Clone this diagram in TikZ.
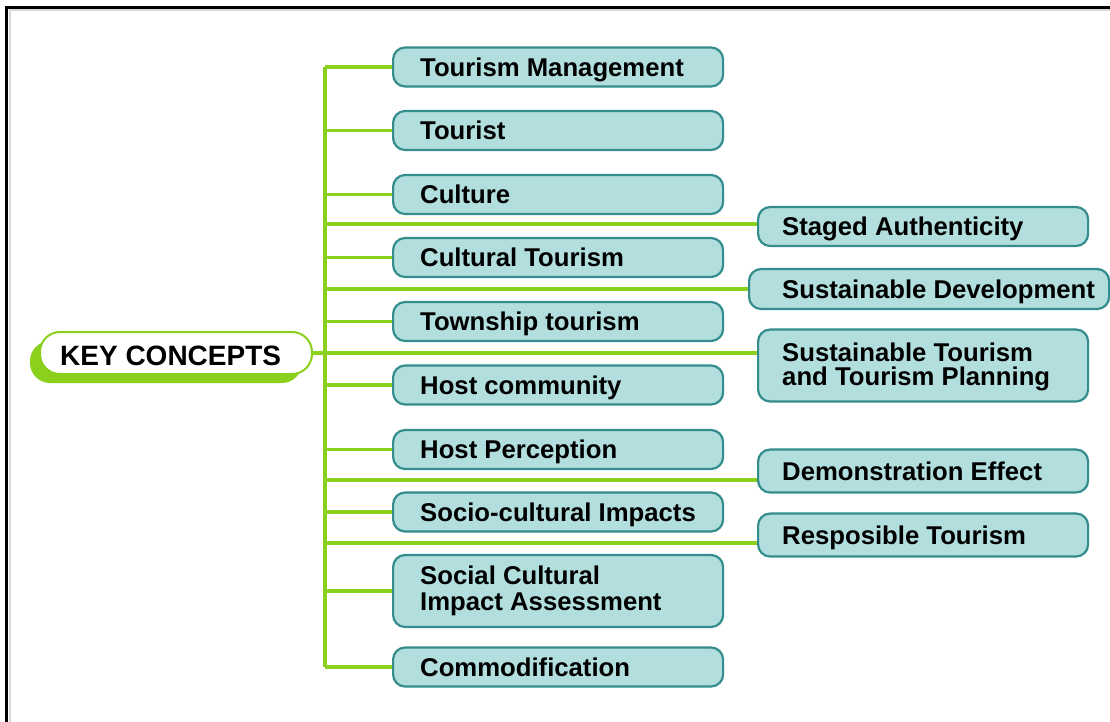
\documentclass[tikz,border=0pt]{standalone}
\usepackage{fontspec}
\setmainfont{Liberation Sans}
\definecolor{kgreen}{RGB}{140,208,30}
\definecolor{bfill}{RGB}{178,222,222}
\definecolor{bdraw}{RGB}{52,140,140}
\tikzset{
  cbox/.style={draw=bdraw, fill=bfill, line width=2.2pt, rounded corners=12pt, inner sep=0pt, anchor=west},
  ctext/.style={inner sep=0pt, font=\fontsize{25.7}{26.5}\selectfont\bfseries, align=left},
  gline/.style={draw=kgreen, line width=3.5pt},
}
\begin{document}
\begin{tikzpicture}[x=1pt,y=-1pt]
\useasboundingbox (0,0) rectangle (1110,722);
% frame
\draw[black!15, line width=2pt] (9.5,722) -- (9.5,10) -- (1110,10);
\draw[black, line width=3pt] (6.5,722) -- (6.5,7.5) -- (1110,7.5);

% left boxes
\node[cbox, minimum width=330pt, minimum height=39pt] (b1) at (392,67) {};
\node[ctext, anchor=base west] (b1t) at (420,76.2) {Tourism Management};
\node[cbox, minimum width=330pt, minimum height=39pt] (b2) at (392,130.5) {};
\node[ctext, anchor=base west] (b2t) at (420,139.7) {Tourist};
\node[cbox, minimum width=330pt, minimum height=39pt] (b3) at (392,194.5) {};
\node[ctext, anchor=base west] (b3t) at (420,203.7) {Culture};
\node[cbox, minimum width=330pt, minimum height=39pt] (b4) at (392,257.5) {};
\node[ctext, anchor=base west] (b4t) at (420,266.7) {Cultural Tourism};
\node[cbox, minimum width=330pt, minimum height=39pt] (b5) at (392,321.5) {};
\node[ctext, anchor=base west] (b5t) at (420,330.7) {Township tourism};
\node[cbox, minimum width=330pt, minimum height=39pt] (b6) at (392,385) {};
\node[ctext, anchor=base west] (b6t) at (420,394.2) {Host community};
\node[cbox, minimum width=330pt, minimum height=39pt] (b7) at (392,449.5) {};
\node[ctext, anchor=base west] (b7t) at (420,458.7) {Host Perception};
\node[cbox, minimum width=330pt, minimum height=39pt] (b8) at (392,512) {};
\node[ctext, anchor=base west] (b8t) at (420,521.2) {Socio-cultural Impacts};
\node[cbox, minimum width=330pt, minimum height=72pt] (b9) at (392,591) {};
\node[ctext, anchor=west] (b9t) at (420,591) {Social Cultural\\Impact Assessment};
\node[cbox, minimum width=330pt, minimum height=39pt] (b10) at (392,667) {};
\node[ctext, anchor=base west] (b10t) at (420,676.2) {Commodification};

% right boxes
\node[cbox, minimum width=330pt, minimum height=39pt] (r1) at (757,226.5) {};
\node[ctext, anchor=base west] (r1t) at (782,235.7) {Staged Authenticity};
\node[cbox, minimum width=360pt, minimum height=40pt] (r2) at (748,289) {};
\node[ctext, anchor=base west] (r2t) at (782,298.2) {Sustainable Development};
\node[cbox, minimum width=330pt, minimum height=72pt] (r3) at (757,365.5) {};
\node[ctext, anchor=west, font=\fontsize{25.7}{24.5}\selectfont\bfseries] (r3t) at (782,367) {Sustainable Tourism\\and Tourism Planning};
\node[cbox, minimum width=330pt, minimum height=43pt] (r4) at (757,471) {};
\node[ctext, anchor=base west] (r4t) at (782,480.2) {Demonstration Effect};
\node[cbox, minimum width=330pt, minimum height=43pt] (r5) at (757,535) {};
\node[ctext, anchor=base west] (r5t) at (782,544.2) {Resposible Tourism};

% key concepts
\node[fill=kgreen, rounded corners=20pt, minimum width=272pt, minimum height=42pt, inner sep=0pt] (kcs) at (166,362) {};
\node[draw=kgreen, line width=2pt, fill=white, rounded corners=20pt, minimum width=272pt, minimum height=42pt, inner sep=0pt] (kc) at (176,353) {};
\node[inner sep=0pt, anchor=base west, font=\fontsize{28}{30}\selectfont\bfseries] (kct) at (60,365) {KEY CONCEPTS};

% trunk
\coordinate (tt) at (325,67);
\coordinate (tb) at (325,667);
\draw[gline] (tt) -- (tb);
\foreach \n in {b1,b2,b3,b4,b5,b6,b7,b8,b9,b10}
  \draw[gline] (tt |- \n.west) -- (\n.west);

\coordinate (r1in) at ([yshift=2.5pt]r1.west);
\coordinate (r2in) at (r2.west);
\coordinate (r3in) at ([yshift=12.5pt]r3.west);
\coordinate (r4in) at ([yshift=-9pt]r4.west);
\coordinate (r5in) at ([yshift=-8pt]r5.west);
\foreach \n in {r1in,r2in,r4in,r5in}
  \draw[gline] (tt |- \n) -- (\n);
\draw[gline] (kc.east) -- (r3in);
\end{tikzpicture}
\end{document}
